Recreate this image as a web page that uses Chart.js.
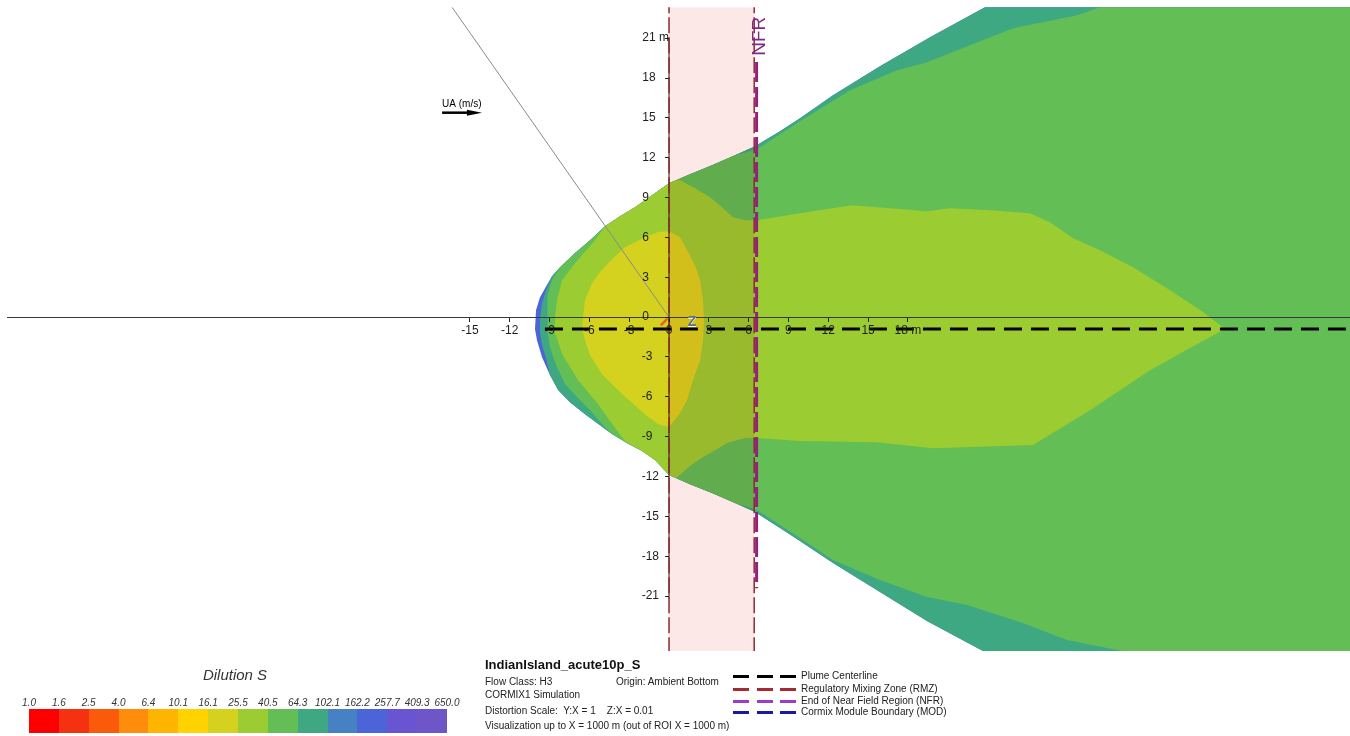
<!DOCTYPE html>
<html>
<head>
<meta charset="utf-8">
<title>IndianIsland_acute10p_S – Dilution S</title>
<script src="https://cdn.jsdelivr.net/npm/chart.js@4.4.1/dist/chart.umd.min.js"></script>
<style>
  html, body { margin: 0; padding: 0; background: #ffffff; }
  #wrap { position: relative; width: 1350px; height: 736px; overflow: hidden;
          font-family: "Liberation Sans", Arial, sans-serif; color: #222; }
  #plot { position: absolute; left: 0; top: 0; }
  .abs { position: absolute; white-space: pre; }
  .scaleTitle { font-style: italic; font-size: 15px; color: #333; text-align: center; }
  .lvl { font-style: italic; font-size: 10px; color: #333; transform: translateX(-50%); }
  .cell { position: absolute; }
  .info { font-size: 10px; line-height: 14px; color: #222; }
  .infoTitle { font-size: 13px; font-weight: bold; line-height: 16px; color: #111; }
  .lgText { font-size: 10px; line-height: 12px; color: #222; }
  .dash { position: absolute; height: 3px; }
</style>
</head>
<body>
<div id="wrap">
  <canvas id="plot" width="1350" height="736"></canvas>
</div>
<script>
// ---- Dilution scale ----
const dilutionLevels = ['1.0','1.6','2.5','4.0','6.4','10.1','16.1','25.5','40.5','64.3','102.1','162.2','257.7','409.3','650.0'];
const levelColors = ['#ff0000','#f5320f','#fa5a0a','#ff8c0a','#ffb400','#ffd200','#d4d21e','#9bcd32','#62be55','#3ea882','#4682c3','#4b64d7','#6955d2','#6e55c8'];

// ---- Plan view extent (m) ----
const xRange = [-49.89, 51.32];
const yRange = [-25.13, 23.33];
const xTickValues = [-15, -12, -9, -6, -3, 0, 3, 6, 9, 12, 15, 18];
const yTickValues = [-21, -18, -15, -12, -9, -6, -3, 0, 3, 6, 9, 12, 15, 18, 21];

// ---- Dilution contour regions, [x, y] in m (each band painted over the previous one) ----
// S 162.2 – 257.7 : outer plume boundary
const contourS162 = [
  [-10.10,-0.90],[-10.02,0.53],[-9.72,1.50],[-9.34,2.18],[-8.82,3.08],[-8.21,3.76],[-7.08,4.82],
  [-5.95,5.79],[-4.82,6.85],[-3.69,7.60],[-2.56,8.28],[-1.28,9.18],[0,10.08],[1.58,10.76],
  [3.24,11.44],[4.97,12.19],[6.48,12.87],[8.36,13.99],[9.87,14.97],[12.36,16.70],[15.90,18.89],
  [19.67,21.07],[23.81,23.32],[27.96,25.73],[55.09,25.73],[55.09,-27.69],[27.96,-27.69],
  [23.81,-25.21],[19.44,-22.87],[15.90,-20.69],[12.36,-18.51],[9.87,-16.85],[8.36,-15.88],
  [6.48,-14.67],[4.97,-13.99],[3.24,-13.24],[1.58,-12.57],[0,-11.89],[-1.06,-10.76],
  [-2.03,-10.08],[-3.17,-9.48],[-4.30,-8.80],[-5.20,-8.13],[-6.33,-7.30],[-7.46,-6.40],
  [-8.36,-5.49],[-8.97,-4.36],[-9.57,-3.01],[-9.95,-1.73],[-10.10,-0.90]
];
// S 64.3 – 102.1
const contourS64 = [
  [-9.72,-0.08],[-9.57,1.05],[-9.27,2.03],[-8.82,3.08],[-8.21,3.76],[-7.08,4.82],
  [-5.95,5.79],[-4.82,6.85],[-3.69,7.60],[-2.56,8.28],[-1.28,9.18],[0,10.08],[1.58,10.76],
  [3.24,11.44],[4.97,12.19],[6.48,12.87],[8.36,13.99],[9.87,14.97],[12.36,16.70],[15.90,18.89],
  [19.67,21.07],[23.81,23.32],[27.96,25.73],[55.09,25.73],[55.09,-27.69],[27.96,-27.69],
  [23.81,-25.21],[19.44,-22.87],[15.90,-20.69],[12.36,-18.51],[9.87,-16.85],[8.36,-15.88],
  [6.48,-14.67],[4.97,-13.99],[3.24,-13.24],[1.58,-12.57],[0,-11.89],[-1.06,-10.76],
  [-2.03,-10.08],[-3.17,-9.48],[-4.30,-8.80],[-5.20,-8.13],[-6.33,-7.30],[-7.46,-6.40],
  [-8.36,-5.49],[-8.97,-4.36],[-9.27,-3.08],[-9.57,-2.11],[-9.72,-1.13],[-9.72,-0.08]
];
// S 40.5 – 64.3
const contourS40 = [
  [-9.19,-0.90],[-9.19,0.30],[-9.12,1.66],[-8.82,2.78],[-8.21,3.76],[-7.08,4.82],[-5.95,5.79],
  [-4.82,6.85],[-3.69,7.60],[-2.56,8.28],[-1.28,9.18],[0,10.08],[1.58,10.76],[3.24,11.44],
  [4.97,12.19],[6.63,12.64],[9.87,14.75],[13.64,17.08],[17.18,18.58],[19.44,19.19],[22.68,20.47],
  [25.92,21.74],[30.75,22.72],[32.48,23.32],[34.36,24.75],[55.09,24.75],[55.09,-26.56],
  [36.25,-26.18],[34.51,-25.21],[29.99,-24.30],[26.45,-22.95],[22.46,-21.67],[19.44,-21.07],
  [15.90,-19.79],[12.36,-18.28],[9.87,-16.63],[6.63,-14.52],[4.97,-13.99],[3.24,-13.24],
  [1.58,-12.57],[0,-11.89],[-1.06,-10.76],[-2.03,-10.08],[-3.17,-9.48],[-4.30,-8.80],
  [-4.82,-8.28],[-5.95,-7.00],[-6.86,-6.09],[-7.84,-5.04],[-8.52,-3.61],[-8.97,-2.26],[-9.19,-0.90]
];
// S 25.5 – 40.5
const contourS25 = [
  [-8.59,0],[-8.44,1.28],[-8.06,2.78],[-7.08,4.06],[-5.58,5.79],[-4.82,6.85],[-3.69,7.60],
  [-2.56,8.28],[-1.28,9.18],[0,10.08],[0.68,10.38],[1.96,9.71],[3.09,9.03],[3.99,8.28],
  [4.82,7.52],[5.73,7.30],[6.63,7.30],[9.87,7.82],[13.79,8.43],[16.65,8.20],[19.44,7.98],
  [21.18,8.20],[24.19,8.05],[27.20,7.82],[28.71,7.15],[30.45,5.94],[32.48,5.04],[34.97,3.76],
  [37.76,2.03],[40.24,0.38],[41.90,-0.90],[39.26,-2.33],[36.25,-3.99],[31.73,-7.00],
  [27.43,-9.63],[19.90,-9.86],[15.67,-9.41],[9.87,-9.33],[6.63,-9.10],[5.73,-9.10],
  [4.37,-9.48],[3.47,-10.01],[2.56,-10.53],[1.58,-11.21],[0.53,-12.11],[0,-11.89],
  [-1.06,-10.76],[-2.03,-10.08],[-3.32,-9.33],[-4.07,-8.35],[-5.35,-6.55],[-6.86,-4.74],
  [-8.06,-2.78],[-8.52,-1.35],[-8.59,0]
];
// S 16.1 – 25.5 : core
const contourS16 = [
  [-6.48,0],[-6.33,1.28],[-5.80,2.56],[-5.20,3.39],[-4.45,4.21],[-3.32,5.27],[-1.81,6.02],
  [-0.83,6.40],[0,6.47],[0.83,6.02],[1.36,5.04],[1.96,3.91],[2.34,2.78],[2.56,1.28],
  [2.64,-0.23],[2.56,-1.73],[2.34,-3.24],[1.81,-4.74],[1.36,-6.24],[0.83,-7.22],[0,-8.28],
  [-0.83,-8.05],[-1.81,-7.30],[-3.54,-5.79],[-5.05,-4.29],[-5.95,-2.86],[-6.33,-1.73],
  [-6.56,-0.83],[-6.48,0]
];
const contourBands = [
  { region: contourS16,  level: 6 },
  { region: contourS25,  level: 7 },
  { region: contourS40,  level: 8 },
  { region: contourS64,  level: 9 },
  { region: contourS162, level: 11 }
];

// ---- Reference lines (m) ----
const plumeCenterline = [[-9.35, -0.9], [51.4, -0.9]];
const rmzBounds = [0, 6.42];
const rmzLeftEdge = [[0, -25.3], [0, 23.5]];
const rmzRightEdge = [[6.42, -25.3], [6.42, 23.5]];
const nfrLine = [[6.6, 19.2], [6.6, -20.4]];
const yAxisSpan = [[0, -21.2], [0, 21.0]];
const ambientDirection = [[-16.35, 23.33], [0, 0]];
const dischargeMark = [[-0.62, -0.62], [-0.12, -0.12]];

// ---- Annotation anchors (m) ----
const nfrLabelAt = [6.86, 21.14];
const zLabelAt = [1.73, -0.41];
const uaLabelAt = [-17.1, 15.8];
const uaArrow = [[-17.1, 15.39], [-14.1, 15.39]];

// ---- Legend entries ----
const lineLegend = [
  { label: 'Plume Centerline', color: '#000000' },
  { label: 'Regulatory Mixing Zone (RMZ)', color: '#a52a35' },
  { label: 'End of Near Field Region (NFR)', color: '#9a3ccc' },
  { label: 'Cormix Module Boundary (MOD)', color: '#1a1aa0' }
];
const infoTitle = 'IndianIsland_acute10p_S';
const infoLines = [
  'Flow Class: H3',
  'CORMIX1 Simulation',
  'Distortion Scale:  Y:X = 1    Z:X = 0.01',
  'Visualization up to X = 1000 m (out of ROI X = 1000 m)'
];
const infoOrigin = 'Origin: Ambient Bottom';

const toXY = pts => pts.map(p => ({ x: p[0], y: p[1] }));

function lineSet(pts, color, width, dash) {
  return {
    data: toXY(pts), borderColor: color, borderWidth: width, borderDash: dash || [],
    pointRadius: 0, fill: false, tension: 0, borderCapStyle: 'butt'
  };
}

// Vertical-axis labels sit left-aligned beside the axis: pad each one with
// trailing spaces so they share a common left edge when drawn right-aligned.
function yLabel(v) {
  if (v === 21) return '21 m';
  const s = String(v);
  let w = 0;
  for (const ch of s) w += (ch === '-') ? 4.0 : 6.67;
  const n = Math.max(0, Math.round((27.3 - w) / 3.33));
  return s + ' '.repeat(n);
}

// Drawing order: first dataset ends up on top.
const datasets = [
  lineSet(plumeCenterline, '#000000', 3, [18, 9]),
  lineSet(nfrLine, '#93207f', 3, [20, 5]),
  lineSet(rmzRightEdge, '#8c2a35', 1.5, [16, 4]),
  lineSet(rmzLeftEdge, '#8c2a35', 1.5, [16, 4]),
  lineSet(yAxisSpan, '#1a1a1a', 1),
  lineSet(dischargeMark, '#e8602a', 2.5),
  lineSet(ambientDirection, '#8a8a8a', 1)
];
contourBands.forEach(b => {
  datasets.push({
    data: toXY(b.region), borderColor: 'rgba(0,0,0,0)', borderWidth: 1,
    backgroundColor: levelColors[b.level], fill: 'shape', pointRadius: 0, tension: 0
  });
});

// Mixing-zone tint (multiplied over the plume) and text annotations
const overlayPlugin = {
  id: 'plumeOverlay',
  afterDatasetsDraw(chart) {
    const { ctx, chartArea: a, scales: { x } } = chart;
    const x0 = x.getPixelForValue(rmzBounds[0]);
    const x1 = x.getPixelForValue(rmzBounds[1]);
    ctx.save();
    ctx.beginPath();
    ctx.rect(a.left, a.top, a.right - a.left, a.bottom - a.top);
    ctx.clip();
    ctx.globalCompositeOperation = 'multiply';
    ctx.fillStyle = 'rgb(253,232,232)';
    ctx.fillRect(x0, a.top, x1 - x0, a.bottom - a.top);
    ctx.restore();
  },
  afterDraw(chart) {
    const { ctx, scales: { x, y } } = chart;
    ctx.save();
    // NFR label
    ctx.translate(x.getPixelForValue(nfrLabelAt[0]), y.getPixelForValue(nfrLabelAt[1]));
    ctx.rotate(-Math.PI / 2);
    ctx.font = '19px "Liberation Sans", Arial, sans-serif';
    ctx.fillStyle = '#7d2a82';
    ctx.textAlign = 'center';
    ctx.textBaseline = 'middle';
    ctx.fillText('NFR', 0, 0);
    ctx.restore();

    // vertical-axis marker
    ctx.save();
    ctx.font = 'bold 14px "Liberation Sans", Arial, sans-serif';
    ctx.textAlign = 'center';
    ctx.textBaseline = 'middle';
    ctx.fillStyle = '#ffffff';
    ctx.fillText('Z', x.getPixelForValue(zLabelAt[0]), y.getPixelForValue(zLabelAt[1]) + 1);
    ctx.fillStyle = '#55708a';
    ctx.fillText('Z', x.getPixelForValue(zLabelAt[0]), y.getPixelForValue(zLabelAt[1]));
    ctx.restore();

    // ambient velocity arrow
    ctx.save();
    const ax0 = x.getPixelForValue(uaArrow[0][0]), ax1 = x.getPixelForValue(uaArrow[1][0]);
    const ay = y.getPixelForValue(uaArrow[0][1]);
    ctx.strokeStyle = '#000';
    ctx.lineWidth = 2.5;
    ctx.beginPath(); ctx.moveTo(ax0, ay); ctx.lineTo(ax1 - 12, ay); ctx.stroke();
    ctx.fillStyle = '#000';
    ctx.beginPath(); ctx.moveTo(ax1, ay); ctx.lineTo(ax1 - 15, ay - 3); ctx.lineTo(ax1 - 15, ay + 3); ctx.closePath(); ctx.fill();
    ctx.font = '10px "Liberation Sans", Arial, sans-serif';
    ctx.textAlign = 'left';
    ctx.textBaseline = 'alphabetic';
    ctx.fillText('UA (m/s)', x.getPixelForValue(uaLabelAt[0]), y.getPixelForValue(uaLabelAt[1]));
    ctx.restore();
  }
};

const tickFont = { family: '"Liberation Sans", Arial, sans-serif', size: 12 };

new Chart(document.getElementById('plot'), {
  type: 'line',
  data: { datasets },
  plugins: [overlayPlugin],
  options: {
    responsive: false,
    devicePixelRatio: 1,
    animation: false,
    layout: { padding: { left: 7, top: 7, right: 0, bottom: 85 } },
    plugins: { legend: { display: false }, tooltip: { enabled: false }, title: { display: false } },
    elements: { line: { tension: 0 } },
    scales: {
      x: {
        type: 'linear', min: xRange[0], max: xRange[1], position: { y: 0 },
        afterBuildTicks: s => { s.ticks = xTickValues.map(v => ({ value: v })); },
        ticks: { autoSkip: false, maxRotation: 0, color: '#1e1e1e', font: tickFont, padding: 2, z: 2,
                 callback: v => (v === 18 ? '18 m' : String(v)) },
        grid: { drawOnChartArea: false, drawTicks: true, tickLength: 4, color: '#222', z: 1 },
        border: { display: true, color: '#3a3a3a', width: 1, z: 1 }
      },
      y: {
        type: 'linear', min: yRange[0], max: yRange[1], position: { x: 0 },
        afterBuildTicks: s => { s.ticks = yTickValues.map(v => ({ value: v })); },
        ticks: { autoSkip: false, color: '#1e1e1e', font: tickFont, padding: 0, z: 2,
                 callback: v => yLabel(v) },
        grid: { drawOnChartArea: false, drawTicks: true, tickLength: 4, color: '#222', z: 1 },
        border: { display: false }
      }
    }
  }
});

// ---- Legend block below the plan view ----
const wrap = document.getElementById('wrap');
function addEl(cls, text, css) {
  const d = document.createElement('div');
  d.className = 'abs ' + cls;
  if (text !== null) d.textContent = text;
  Object.assign(d.style, css);
  wrap.appendChild(d);
  return d;
}
// colour bar
const barLeft = 29, barWidth = 418, cellW = barWidth / levelColors.length;
addEl('scaleTitle', 'Dilution S', { left: '0px', width: '470px', top: '666px', lineHeight: '18px' });
levelColors.forEach((c, i) => {
  addEl('cell', null, { left: (barLeft + i * cellW) + 'px', top: '709px', width: (cellW + 0.5) + 'px', height: '24px', background: c });
});
dilutionLevels.forEach((t, i) => {
  addEl('lvl', t, { left: (barLeft + i * cellW) + 'px', top: '697px', lineHeight: '12px' });
});
// run information
addEl('infoTitle', infoTitle, { left: '485px', top: '657px' });
const infoTops = [675, 688, 704, 719];
infoLines.forEach((t, i) => addEl('info', t, { left: '485px', top: infoTops[i] + 'px' }));
addEl('info', infoOrigin, { left: '616px', top: '675px' });
// line key
const keyCenters = [676, 689, 701, 712];
lineLegend.forEach((e, i) => {
  [733, 757, 780].forEach(dx => {
    addEl('dash', null, { left: dx + 'px', top: (keyCenters[i] - 1.5) + 'px', width: '16px', background: e.color });
  });
  addEl('lgText', e.label, { left: '801px', top: (keyCenters[i] - 6) + 'px' });
});
</script>
</body>
</html>
